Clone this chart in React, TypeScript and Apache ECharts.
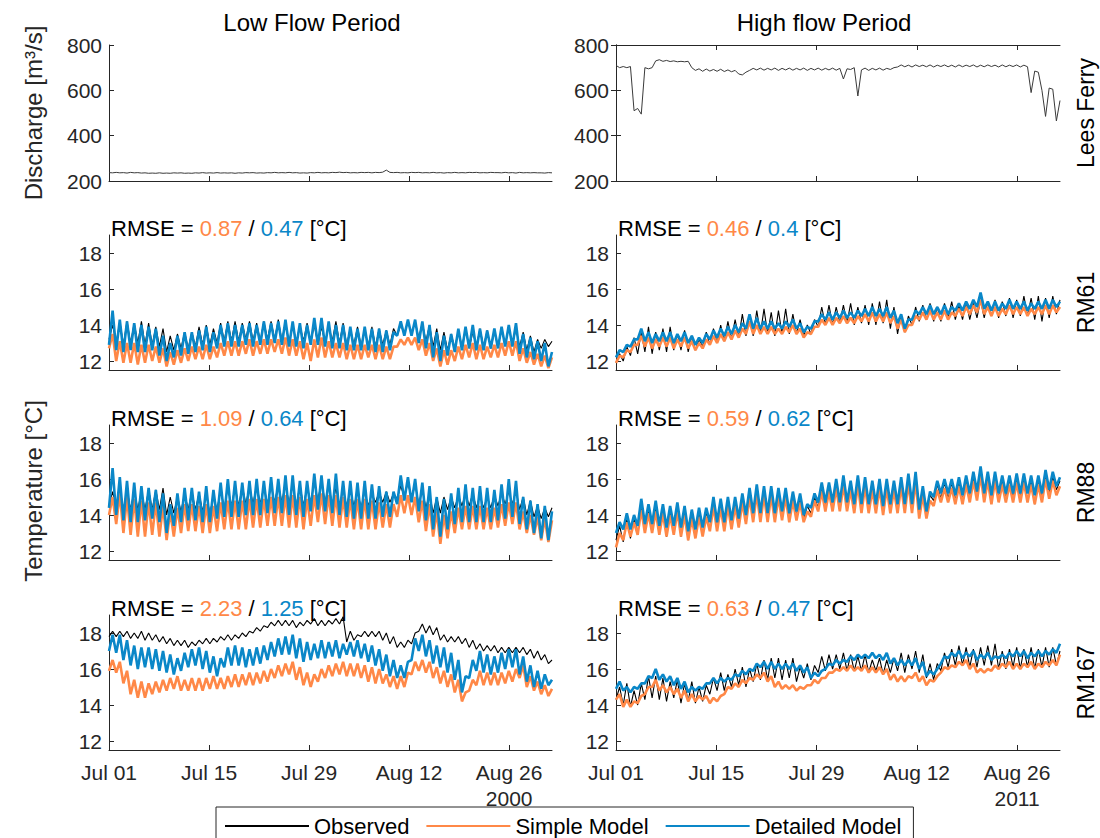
import React, { useEffect, useRef } from 'react';
import * as echarts from 'echarts';

// ---------- labels ----------
const DAY_TICKS = [0, 14, 28, 42, 56];
const DAY_LABELS = ['Jul 01', 'Jul 15', 'Jul 29', 'Aug 12', 'Aug 26'];
const YEARS = ['2000', '2011'];
const PERIOD_TITLES = ['Low Flow Period', 'High flow Period'];
const SITES = ['Lees Ferry', 'RM61', 'RM88', 'RM167'];
const TEMP_TICKS = [12, 14, 16, 18];
const Q_TICKS = [200, 400, 600, 800];
const RMSE_SIMPLE_LOW = ['0.87', '1.09', '2.23'];
const RMSE_DETAILED_LOW = ['0.47', '0.64', '1.25'];
const RMSE_SIMPLE_HIGH = ['0.46', '0.59', '0.63'];
const RMSE_DETAILED_HIGH = ['0.4', '0.62', '0.47'];
const LEGEND_NAMES = ['Observed', 'Simple Model', 'Detailed Model'];

// ---------- discharge (half-day samples, m3/s) ----------
const dischargeLow = [
  237,236,238,236,237,235,238,236,237,235,236,234,
  235,234,236,234,235,234,236,235,236,234,235,234,
  236,235,237,235,236,235,237,235,236,235,236,234,
  236,235,237,236,237,235,236,235,237,236,238,236,
  237,236,238,236,237,235,236,235,237,236,238,236,
  237,236,238,237,239,237,238,236,237,236,238,237,
  238,236,238,237,239,248,238,237,238,236,237,236,
  238,237,238,236,237,236,238,236,237,235,237,236,
  238,236,237,236,238,237,238,236,237,236,238,237,
  237,236,238,236,237,235,238,236,237,236,237,236,
  236,235,237,236,
];
const dischargeHigh = [
  710,700,705,700,
  705,510,520,495,700,695,700,730,
  735,728,732,727,730,726,728,726,728,
  700,
  688,695,684,694,685,692,684,693,683,690,682,688,
  672,668,680,
  688,697,690,698,689,697,690,698,688,697,690,698,689,697,690,698,688,697,690,698,689,697,690,698,689,697,
  650,695,692,700,575,690,
  698,688,697,690,698,689,697,692,700,
  703,712,704,711,703,712,705,711,704,712,703,711,705,712,704,711,703,712,704,711,705,712,703,711,704,712,705,711,703,712,704,711,705,712,703,711,704,
  590,685,680,600,485,610,605,465,555,
];

// ---------- temperature, daily low / high (deg C) ----------
// Low flow period (2000), RM61
const low61ObsHi = [14.0,14.2,14.2,14.1,14.2,14.1, 13.9,13.8,13.4,13.5,13.6,13.6, 13.9,14.0,13.8,14.1,14.2,14.2, 14.1,14.2,14.1,14.2,14.2,14.3, 14.2,14.1,14.0,14.1,14.0,13.9, 14.0,14.2,14.1,13.8,13.9,13.8, 13.9,13.8,13.7,13.8,14.0,14.2, 14.2,14.1,14.0,13.8,13.6,13.5, 13.7,13.8,13.6,13.8,13.7,13.6, 13.8,13.9,13.8,13.6,13.4,13.2, 13.2,13.1];
const low61ObsLo = [13.2,13.0,12.9,13.0,13.0,12.9, 12.9,12.8,12.5,12.6,12.7,12.7, 12.8,12.9,12.9,13.0,13.1,13.1, 13.1,13.2,13.1,13.1,13.2,13.2, 13.1,13.0,13.0,13.1,13.0,12.9, 13.0,13.1,13.0,12.9,12.9,12.8, 12.8,12.8,12.9,12.9,13.4,13.5, 13.5,13.3,13.1,12.8,12.6,12.6, 12.7,12.8,12.7,12.8,12.8,12.7, 12.8,12.9,12.9,12.8,12.6,12.5, 12.7,12.8];
const low61DetHi = [14.8,14.3,14.2,14.1,14.0,13.9, 13.8,13.4,13.0,13.4,13.6,13.6, 13.7,13.9,13.6,14.0,14.1,14.0, 14.0,14.1,14.0,14.2,14.1,14.2, 14.3,14.2,14.1,14.0,14.4,14.4, 14.2,14.0,14.0,13.9,13.8,13.9, 13.8,13.8,13.7,13.6,14.2,14.3, 14.3,14.2,14.0,13.6,13.4,13.5, 13.8,13.9,14.0,13.8,13.7,13.8, 13.9,14.0,14.1,13.5,13.3,13.1, 13.0,12.5];
const low61DetLo = [12.9,12.6,12.5,12.6,12.5,12.5, 12.6,12.3,12.0,12.2,12.3,12.4, 12.5,12.6,12.5,12.7,12.8,12.8, 12.8,12.9,12.8,12.9,12.9,13.0, 12.9,12.8,12.8,12.7,12.9,12.9, 12.8,12.7,12.7,12.6,12.6,12.6, 12.6,12.5,12.5,12.6,13.4,13.4, 13.4,13.0,12.7,12.2,12.0,12.3, 12.5,12.6,12.7,12.6,12.6,12.7, 12.7,12.8,12.8,12.4,12.2,12.1, 12.0,11.7];
const low61SimHi = [13.5,13.1,13.0,13.0,12.9,12.9, 12.8,12.7,12.5,12.6,12.7,12.8, 12.8,12.9,12.8,13.0,13.1,13.1, 13.1,13.2,13.1,13.2,13.2,13.2, 13.3,13.2,13.1,13.0,13.2,13.3, 13.1,13.0,13.0,12.9,12.9,12.9, 12.9,12.9,12.8,12.8,13.2,13.3, 13.3,13.2,13.0,12.7,12.6,12.6, 12.8,12.9,13.0,12.9,12.8,12.9, 13.0,13.1,13.1,12.7,12.5,12.4, 12.3,12.2];
const low61SimLo = [12.7,12.0,11.9,11.9,11.8,11.9, 12.0,11.9,11.7,11.8,11.9,12.0, 12.1,12.1,12.1,12.2,12.3,12.3, 12.3,12.4,12.3,12.4,12.4,12.5, 12.4,12.3,12.3,12.1,12.0,12.2, 12.2,12.2,12.2,12.1,12.1,12.1, 12.2,12.1,12.1,12.1,12.8,12.9, 12.9,12.6,12.3,12.0,11.7,11.8, 12.0,12.1,12.2,12.1,12.1,12.2, 12.2,12.3,12.3,12.0,11.9,11.8, 11.7,11.6];

// Low flow period (2000), RM88
const low88ObsHi = [15.3,15.5,15.4,15.4,15.3,15.4, 15.4,15.5,15.0,15.0,15.2,15.3, 15.2,15.1,15.0,15.4,15.5,15.6, 15.6,15.6,15.7,15.6,15.6,15.7, 15.8,15.7,15.7,15.6,15.8,15.9, 15.7,15.5,15.4,15.4,15.3,15.3, 15.2,15.3,15.3,15.2,15.6,15.8, 15.7,15.4,15.2,15.0,15.0,15.0, 15.1,15.2,15.2,15.1,15.0,15.1, 15.2,15.3,15.4,15.0,14.8,14.5, 14.4,14.4];
const low88ObsLo = [14.5,14.4,14.3,14.3,14.3,14.3, 14.3,14.3,14.0,14.1,14.2,14.3, 14.3,14.2,14.1,14.3,14.4,14.5, 14.5,14.6,14.6,14.6,14.6,14.7, 14.7,14.6,14.5,14.5,14.7,14.8, 14.7,14.5,14.5,14.5,14.5,14.4, 14.5,14.7,14.7,14.7,14.9,15.0, 14.9,14.6,14.4,14.1,14.1,14.3, 14.4,14.5,14.5,14.4,14.4,14.4, 14.5,14.6,14.6,14.3,14.0,13.9, 13.8,13.9];
const low88DetHi = [16.6,16.1,15.9,15.8,15.6,15.5, 15.4,15.2,14.6,15.2,15.5,15.5, 15.3,15.6,15.4,15.8,16.0,15.9, 15.8,15.9,16.0,15.9,16.1,16.0, 16.2,16.2,15.9,15.9,16.3,16.2, 16.0,16.3,15.9,15.9,15.8,15.9, 15.7,15.6,15.3,15.3,16.2,16.1, 16.0,15.8,15.6,15.0,14.9,15.2, 15.5,15.7,15.5,15.6,15.5,15.4, 15.7,16.0,15.9,15.0,14.8,14.6, 14.5,14.2];
const low88DetLo = [14.4,14.0,13.7,13.6,13.6,13.7, 13.8,13.6,13.0,13.4,13.6,13.7, 13.7,13.6,13.6,13.8,13.9,13.9, 13.9,14.0,14.0,14.0,14.1,14.1, 14.1,14.0,14.0,13.9,14.2,14.3, 14.2,14.1,14.0,13.9,13.8,13.8, 13.8,13.8,13.9,13.9,14.6,14.8, 14.7,14.2,13.7,13.2,12.8,13.2, 13.5,13.6,13.6,13.6,13.6,13.6, 13.7,13.8,13.9,13.5,13.2,13.0, 12.7,12.6];
const low88SimHi = [15.0,15.2,15.0,14.9,14.8,14.7, 14.7,14.5,14.2,14.4,14.6,14.6, 14.5,14.6,14.5,14.7,14.8,14.8, 14.8,14.9,14.9,14.9,15.0,15.0, 15.1,15.1,15.0,14.9,15.1,15.2, 15.1,15.1,15.0,14.9,14.9,14.9, 14.8,14.7,14.6,14.6,15.1,15.1, 15.0,14.8,14.6,14.2,14.0,14.2, 14.4,14.5,14.5,14.5,14.4,14.4, 14.6,14.7,14.7,14.2,14.0,13.9, 13.8,13.7];
const low88SimLo = [14.0,13.5,13.0,12.9,12.8,12.8, 12.9,12.8,12.6,12.8,13.0,13.1, 13.1,13.0,13.0,13.1,13.2,13.2, 13.2,13.2,13.3,13.3,13.4,13.4, 13.4,13.3,13.3,13.2,13.4,13.6, 13.5,13.4,13.3,13.3,13.2,13.2, 13.2,13.2,13.3,13.3,13.9,14.1, 14.0,13.6,13.1,12.8,12.4,12.7, 13.0,13.2,13.2,13.2,13.2,13.2, 13.3,13.4,13.5,13.2,13.0,12.9, 12.6,12.5];

// Low flow period (2000), RM167
const low167ObsHi = [18.1,18.1,18.1,18.0,18.1,18.0, 17.9,17.8,17.7,17.6,17.6,17.5, 17.6,17.7,17.7,17.8,17.9,17.9, 18.0,18.1,18.3,18.4,18.6,18.7, 18.7,18.7,18.6,18.7,18.8,18.7, 18.7,18.8,18.9,18.1,17.9,18.1, 18.1,18.1,18.0,17.8,17.5,17.6, 18.0,18.5,18.4,18.3,17.9,17.8, 17.8,17.7,17.6,17.4,17.3,17.3, 17.2,17.2,17.2,17.2,17.1,17.0, 16.8,16.5];
const low167ObsLo = [17.8,17.8,17.8,17.7,17.7,17.6, 17.6,17.5,17.4,17.3,17.3,17.2, 17.3,17.4,17.4,17.5,17.6,17.6, 17.7,17.8,18.0,18.1,18.3,18.4, 18.4,18.4,18.3,18.4,18.5,18.4, 18.4,18.5,18.5,17.5,17.6,17.8, 17.8,17.8,17.6,17.4,17.2,17.2, 17.4,18.1,18.0,17.9,17.6,17.5, 17.5,17.4,17.2,17.1,17.0,17.0, 16.9,16.9,16.9,16.9,16.8,16.6, 16.5,16.3];
const low167DetHi = [17.9,17.9,17.6,17.3,17.2,17.2, 17.1,17.0,16.8,16.6,16.9,17.1, 17.2,17.0,16.7,16.6,17.2,17.3, 17.2,17.1,17.2,17.3,17.5,17.7, 17.8,17.9,17.7,17.5,17.4,17.6, 17.5,17.6,17.4,17.5,17.6,17.4, 17.3,17.1,16.8,16.5,16.2,16.4, 17.7,17.9,17.6,17.3,17.2,16.9, 16.5,15.6,16.5,17.0,16.8,16.7, 16.9,17.1,17.1,16.7,16.2,15.9, 15.7,15.4];
const low167DetLo = [17.0,16.9,16.5,16.2,16.0,16.1, 16.0,15.9,15.8,15.7,15.9,16.1, 16.2,16.0,15.8,15.6,16.1,16.2, 16.2,16.1,16.2,16.3,16.5,16.7, 16.8,16.8,16.6,16.4,16.5,16.6, 16.6,16.7,16.6,16.8,16.7,16.6, 16.4,16.2,15.9,15.6,15.5,15.5, 16.5,17.0,16.7,16.3,16.1,15.8, 15.4,14.7,15.5,15.9,15.8,15.7, 15.8,16.0,16.1,15.7,15.3,15.0, 14.9,15.1];
const low167SimHi = [16.5,16.4,15.9,15.4,15.3,15.2, 15.3,15.4,15.5,15.6,15.4,15.5, 15.5,15.5,15.6,15.5,15.6,15.7, 15.7,15.8,15.8,15.9,16.0,16.2, 16.3,16.4,16.1,15.8,15.7,16.0, 16.2,16.3,16.4,16.3,16.3,16.2, 16.1,16.0,15.7,15.6,15.6,15.8, 16.4,16.5,16.4,16.1,15.9,15.7, 15.4,14.7,15.4,15.9,15.8,15.8, 15.8,15.9,16.0,16.2,15.6,15.3, 15.1,14.9];
const low167SimLo = [15.9,15.8,15.2,14.6,14.4,14.4, 14.6,14.7,14.8,14.9,14.8,14.8, 14.8,14.8,14.9,14.9,14.9,15.0, 15.0,15.1,15.1,15.2,15.3,15.5, 15.6,15.7,15.4,15.1,15.0,15.3, 15.5,15.6,15.7,15.6,15.6,15.5, 15.3,15.2,15.2,15.0,14.9,15.0, 15.7,15.9,15.8,15.5,15.2,15.0, 14.7,14.2,14.8,15.1,15.1,15.1, 15.1,15.2,15.3,15.5,15.0,14.8, 14.6,14.5];

// High flow period (2011), RM61
const high61ObsHi = [12.4,12.8,13.3,13.6,13.9,13.6, 13.8,13.9,13.5,13.7,13.4,13.2, 13.6,13.8,14.0,14.2,14.3,14.6, 14.6,14.8,14.9,14.7,14.8,14.9, 14.6,14.3,14.0,14.3,15.0,15.1, 15.0,15.1,15.2,15.0,15.1,15.2, 15.3,15.4,15.0,14.6,14.5,15.0, 15.1,15.2,15.0,15.2,15.3,15.1, 15.3,15.2,15.4,15.3,15.4,15.3, 15.5,15.4,15.6,15.5,15.6,15.5, 15.6,15.4];
const high61ObsLo = [11.9,12.0,12.3,12.4,12.5,12.4, 12.6,12.5,12.6,12.6,12.5,12.6, 12.8,12.9,13.0,13.1,13.2,13.3, 13.4,13.4,13.5,13.5,13.4,13.5, 13.5,13.5,13.4,13.5,13.9,14.0, 14.0,14.1,14.1,14.0,14.1,14.0, 14.0,14.1,13.8,13.5,13.6,14.0, 14.2,14.3,14.2,14.2,14.4,14.3, 14.3,14.3,14.4,14.4,14.5,14.4, 14.5,14.4,14.5,14.5,14.3,14.2, 14.4,14.6];
const high61DetHi = [12.6,12.9,13.2,13.8,13.6,13.5, 13.6,13.6,13.5,13.6,13.4,13.3, 13.5,13.7,13.8,13.9,14.0,14.1, 14.6,14.4,14.2,14.2,14.1,14.2, 14.3,14.1,13.9,14.2,14.6,14.7, 14.7,14.8,14.7,14.8,14.9,15.0, 14.9,15.0,14.8,14.6,14.3,14.8, 15.0,15.1,15.0,15.1,15.0,15.2, 15.3,15.4,15.8,15.3,15.3,15.2, 15.4,15.3,15.3,15.2,15.3,15.4, 15.4,15.3];
const high61DetLo = [12.2,12.5,12.8,13.2,13.1,13.0, 13.1,13.1,13.0,13.1,13.0,12.9, 13.0,13.2,13.3,13.4,13.5,13.6, 13.8,13.8,13.8,13.8,13.8,13.8, 13.9,13.8,13.6,13.8,14.2,14.3, 14.3,14.4,14.4,14.4,14.5,14.5, 14.5,14.5,14.4,14.1,13.8,14.3, 14.6,14.6,14.6,14.6,14.6,14.8, 14.8,14.9,15.0,14.9,14.8,14.8, 14.9,14.9,14.9,14.8,14.9,14.9, 14.9,15.0];
const high61SimHi = [12.3,12.6,12.9,13.4,13.3,13.2, 13.3,13.3,13.2,13.3,13.1,13.0, 13.2,13.4,13.5,13.6,13.7,13.8, 14.2,14.0,13.9,13.9,13.8,13.9, 14.0,13.8,13.6,13.9,14.3,14.4, 14.4,14.5,14.4,14.5,14.6,14.7, 14.6,14.7,14.5,14.3,14.0,14.5, 14.7,14.8,14.7,14.8,14.7,14.9, 15.0,15.1,15.4,15.0,15.0,14.9, 15.1,15.0,15.0,14.9,15.0,15.1, 15.1,15.0];
const high61SimLo = [11.9,12.2,12.5,12.9,12.8,12.7, 12.8,12.8,12.7,12.8,12.7,12.6, 12.7,12.9,13.0,13.1,13.2,13.3, 13.5,13.5,13.5,13.5,13.5,13.5, 13.6,13.5,13.3,13.5,13.9,14.0, 14.0,14.1,14.1,14.1,14.2,14.2, 14.2,14.2,14.1,13.8,13.6,14.0, 14.3,14.3,14.3,14.3,14.3,14.5, 14.5,14.6,14.7,14.6,14.5,14.5, 14.6,14.6,14.6,14.5,14.6,14.6, 14.6,14.7];

// High flow period (2011), RM88
const high88ObsHi = [13.4,13.8,13.8,14.5,14.3,14.5, 14.3,14.3,14.5,14.3,14.1,14.2, 14.2,14.8,14.7,14.8,14.8,15.0, 15.3,15.5,15.4,15.4,15.3,15.3, 15.1,15.0,14.5,15.0,15.6,15.7, 15.8,16.0,15.7,15.9,15.8,15.7, 15.7,15.7,15.6,15.8,16.0,16.1, 15.4,15.1,15.7,15.8,15.8,15.9, 16.0,16.1,16.4,16.2,16.2,16.0, 16.0,16.1,16.1,16.0,16.0,16.2, 16.1,15.9];
const high88ObsLo = [12.6,12.5,12.7,13.0,13.1,13.0, 12.9,12.8,12.9,12.8,12.6,12.8, 12.9,13.2,13.2,13.2,13.3,13.5, 13.7,13.8,13.8,13.8,13.8,13.9, 13.8,13.9,13.8,14.1,14.4,14.4, 14.4,14.4,14.4,14.3,14.3,14.3, 14.3,14.2,14.3,14.3,14.3,14.3, 14.0,14.0,14.8,14.9,14.9,14.8, 14.8,14.9,15.0,14.9,14.8,14.9, 14.9,14.9,14.9,14.8,14.6,14.9, 15.2,15.4];
const high88DetHi = [13.6,14.1,14.0,14.9,14.6,14.8, 14.6,14.5,14.7,14.5,14.3,14.4, 14.4,15.0,14.9,15.0,15.0,15.2, 15.5,15.7,15.6,15.6,15.5,15.5, 15.3,15.2,14.6,15.2,15.8,15.8, 16.0,16.2,15.9,16.2,16.1,15.9, 16.0,16.0,15.9,16.1,16.3,16.4, 15.6,15.3,15.9,16.0,16.0,16.1, 16.2,16.4,16.7,16.4,16.4,16.2, 16.2,16.3,16.3,16.2,16.2,16.5, 16.4,16.1];
const high88DetLo = [13.0,13.2,13.2,13.4,13.5,13.5, 13.4,13.3,13.4,13.3,13.1,13.2, 13.3,13.6,13.6,13.6,13.7,13.8, 14.0,14.1,14.1,14.1,14.1,14.2, 14.1,14.2,14.0,14.4,14.7,14.7, 14.7,14.7,14.7,14.6,14.6,14.6, 14.6,14.5,14.6,14.6,14.6,14.6, 14.3,14.2,15.0,15.2,15.2,15.1, 15.1,15.2,15.3,15.2,15.1,15.2, 15.2,15.2,15.2,15.2,15.1,15.2, 15.4,15.6];
const high88SimHi = [13.0,13.6,13.6,14.3,14.1,14.2, 14.1,14.0,14.2,14.0,13.8,13.9, 13.9,14.5,14.4,14.5,14.5,14.7, 15.0,15.2,15.1,15.1,15.0,15.0, 14.8,14.7,14.2,14.8,15.3,15.3, 15.5,15.7,15.4,15.7,15.6,15.4, 15.5,15.5,15.4,15.6,15.8,15.9, 15.1,14.8,15.4,15.5,15.5,15.6, 15.7,15.9,16.2,15.9,15.9,15.7, 15.7,15.8,15.8,15.7,15.7,16.0, 15.9,15.6];
const high88SimLo = [12.2,12.6,12.8,12.9,13.0,13.0, 12.9,12.8,12.9,12.8,12.6,12.7, 12.8,13.1,13.1,13.1,13.2,13.3, 13.5,13.6,13.6,13.6,13.6,13.7, 13.6,13.7,13.6,13.9,14.2,14.2, 14.2,14.2,14.2,14.1,14.1,14.1, 14.1,14.0,14.1,14.1,14.1,14.1, 13.8,13.8,14.5,14.7,14.7,14.6, 14.6,14.7,14.8,14.7,14.6,14.7, 14.7,14.7,14.7,14.7,14.6,14.7, 14.9,15.1];

// High flow period (2011), RM167
const high167ObsHi = [15.0,15.2,14.8,15.2,15.6,15.6, 15.5,15.3,15.4,15.2,15.3,15.0, 15.1,15.5,15.8,15.7,16.0,16.1, 16.0,16.3,16.5,16.6,16.6,16.5, 16.6,16.1,16.3,16.2,16.7,16.8, 16.8,16.9,16.8,16.7,16.8,16.5, 16.6,16.5,16.6,16.9,16.8,17.0, 16.8,16.3,16.3,16.9,17.1,17.3, 17.2,17.1,17.2,17.3,17.4,17.0, 17.1,17.2,17.1,17.2,17.1,17.2, 17.2,17.0];
const high167ObsLo = [14.3,14.0,13.9,14.0,14.3,14.4, 14.3,14.2,14.4,14.1,14.2,14.1, 14.2,14.6,14.8,14.8,15.0,15.1, 15.0,15.3,15.4,15.4,15.5,15.4, 15.5,15.3,15.5,15.4,15.8,15.9, 16.0,16.0,15.9,15.9,15.9,15.8, 15.9,15.7,15.8,15.9,15.8,16.0, 15.8,15.5,15.4,15.9,16.1,16.2, 16.2,16.1,16.1,16.2,16.2,16.0, 16.0,16.1,16.0,16.1,16.0,16.1, 16.1,16.2];
const high167DetHi = [15.3,15.0,15.0,15.2,15.6,16.0, 15.7,15.6,15.5,15.3,15.0,15.0, 15.2,15.5,15.5,15.5,15.7,15.9, 16.0,16.3,16.4,16.4,16.3,16.3, 16.3,16.2,16.1,15.8,15.9,16.3, 16.5,16.5,16.7,16.8,16.8,16.9, 16.8,16.9,16.6,16.5,16.5,16.6, 16.4,15.9,16.0,16.7,16.9,17.0, 16.9,17.0,16.8,16.9,16.7,16.8, 16.9,17.0,17.0,16.9,17.0,17.0, 17.1,17.4];
const high167DetLo = [14.9,14.8,14.7,14.9,15.2,15.5, 15.4,15.3,15.1,14.9,14.7,14.8, 14.9,15.2,15.2,15.3,15.4,15.6, 15.7,15.9,16.1,16.0,16.0,16.0, 16.0,15.9,15.8,15.5,15.6,16.0, 16.2,16.3,16.4,16.5,16.6,16.6, 16.6,16.5,16.3,16.2,16.2,16.2, 16.0,15.6,15.7,16.3,16.6,16.7, 16.6,16.7,16.5,16.6,16.5,16.6, 16.6,16.7,16.7,16.6,16.7,16.7, 16.8,16.9];
const high167SimHi = [14.6,14.3,14.2,14.5,15.0,15.4, 15.1,15.0,14.9,14.8,14.6,14.5, 14.5,14.4,14.5,15.0,15.2,15.4, 15.5,15.7,15.8,15.6,15.3,15.1, 15.1,15.0,15.1,15.4,15.5,15.8, 16.0,16.1,16.2,16.1,16.2,16.1, 16.1,16.0,15.7,15.6,15.6,15.8, 15.6,15.4,15.6,16.1,16.2,16.4, 16.5,16.3,16.0,16.0,16.2,16.3, 16.4,16.3,16.3,16.4,16.3,16.4, 16.5,16.8];
const high167SimLo = [14.3,13.9,13.9,14.1,14.6,15.0, 14.8,14.7,14.6,14.4,14.2,14.2, 14.3,14.1,14.2,14.6,14.9,15.0, 15.2,15.4,15.5,15.3,15.0,14.9, 14.9,14.8,14.9,15.1,15.2,15.5, 15.8,15.9,15.9,15.9,15.9,15.8, 15.8,15.7,15.4,15.3,15.3,15.5, 15.3,15.1,15.3,15.8,16.0,16.1, 16.2,16.0,15.8,15.8,15.9,16.0, 16.1,16.0,16.0,16.1,16.0,16.1, 16.2,16.2];

// ---------- styling ----------
const FONT = '"Liberation Sans", Arial, Helvetica, sans-serif';
const INK = '#262626';
const OBS_COLOR = '#000000';
const Q_COLOR = '#3a3a3a';
const SIMPLE_COLOR = '#FF8847';
const DETAILED_COLOR = '#0A87C8';

const GRID_LEFT = [109, 616];
const GRID_WIDTH = [443, 444];
const GRID_TOP = [45, 235, 425, 615];
const GRID_HEIGHT = [136, 135, 135, 135];
const X_MAX = 62;

function dayPairs(lo: number[], hi: number[]) {
  const out: number[] = [];
  for (let i = 0; i < lo.length; i++) out.push(lo[i], hi[i]);
  return out;
}
function onTimeAxis(vals: number[]) {
  const n = vals.length;
  return vals.map((v, i) => [(i * X_MAX) / (n - 1), v]);
}

const TEMP_PANELS = [
  { row: 1, col: 0, obs: [low61ObsLo, low61ObsHi], sim: [low61SimLo, low61SimHi], det: [low61DetLo, low61DetHi] },
  { row: 1, col: 1, obs: [high61ObsLo, high61ObsHi], sim: [high61SimLo, high61SimHi], det: [high61DetLo, high61DetHi] },
  { row: 2, col: 0, obs: [low88ObsLo, low88ObsHi], sim: [low88SimLo, low88SimHi], det: [low88DetLo, low88DetHi] },
  { row: 2, col: 1, obs: [high88ObsLo, high88ObsHi], sim: [high88SimLo, high88SimHi], det: [high88DetLo, high88DetHi] },
  { row: 3, col: 0, obs: [low167ObsLo, low167ObsHi], sim: [low167SimLo, low167SimHi], det: [low167DetLo, low167DetHi] },
  { row: 3, col: 1, obs: [high167ObsLo, high167ObsHi], sim: [high167SimLo, high167SimHi], det: [high167DetLo, high167DetHi] },
];

function buildOption() {
  const grid: any[] = [];
  const xAxis: any[] = [];
  const yAxis: any[] = [];
  const series: any[] = [];
  const graphic: any[] = [];

  const axisLine = { show: true, lineStyle: { color: INK, width: 1 } };
  const labelStyle = { color: INK, fontSize: 21, fontFamily: FONT };

  for (let row = 0; row < 4; row++) {
    for (let col = 0; col < 2; col++) {
      const gi = grid.length;
      grid.push({ left: GRID_LEFT[col], top: GRID_TOP[row], width: GRID_WIDTH[col], height: GRID_HEIGHT[row] });
      const year = YEARS[col];
      xAxis.push({
        type: 'value', gridIndex: gi, min: 0, max: X_MAX,
        axisLine,
        splitLine: { show: false },
        axisTick: { show: true, inside: true, length: 5, customValues: DAY_TICKS, lineStyle: { color: INK } },
        axisLabel: {
          show: row === 3, customValues: DAY_TICKS, margin: 9, ...labelStyle, lineHeight: 26,
          formatter: (v: number) => {
            const k = DAY_TICKS.indexOf(v);
            return k === DAY_TICKS.length - 1 ? DAY_LABELS[k] + '\n' + year : DAY_LABELS[k];
          },
        },
      });
      if (row === 0) {
        yAxis.push({
          type: 'value', gridIndex: gi, min: 200, max: 800, interval: 200,
          axisLine, splitLine: { show: false },
          axisTick: { show: true, inside: true, length: 5, lineStyle: { color: INK } },
          axisLabel: { ...labelStyle, margin: 7, customValues: Q_TICKS },
        });
      } else {
        yAxis.push({
          type: 'value', gridIndex: gi, min: 11.5, max: 19,
          axisLine, splitLine: { show: false },
          axisTick: { show: true, inside: true, length: 5, customValues: TEMP_TICKS, lineStyle: { color: INK } },
          axisLabel: { ...labelStyle, margin: 7, customValues: TEMP_TICKS },
        });
      }
    }
  }

  // box for the high-flow discharge panel
  const boxGrid = 1;
  xAxis.push({
    type: 'value', gridIndex: boxGrid, position: 'top', min: 0, max: X_MAX,
    axisLine, splitLine: { show: false },
    axisTick: { show: true, inside: true, length: 5, customValues: DAY_TICKS, lineStyle: { color: INK } },
    axisLabel: { show: false },
  });
  yAxis.push({
    type: 'value', gridIndex: boxGrid, position: 'right', min: 200, max: 800, interval: 200,
    axisLine, splitLine: { show: false },
    axisTick: { show: true, inside: true, length: 5, lineStyle: { color: INK } },
    axisLabel: { show: false },
  });

  // discharge
  [dischargeLow, dischargeHigh].forEach((q, col) => {
    series.push({
      type: 'line', name: 'Discharge', xAxisIndex: col, yAxisIndex: col,
      data: onTimeAxis(q), symbol: 'none', lineStyle: { color: Q_COLOR, width: 1 }, itemStyle: { color: Q_COLOR },
    });
  });

  // temperature
  TEMP_PANELS.forEach((p) => {
    const gi = p.row * 2 + p.col;
    const defs = [
      { name: LEGEND_NAMES[0], d: p.obs, color: OBS_COLOR, width: 1.1 },
      { name: LEGEND_NAMES[1], d: p.sim, color: SIMPLE_COLOR, width: 2.6 },
      { name: LEGEND_NAMES[2], d: p.det, color: DETAILED_COLOR, width: 2.6 },
    ];
    defs.forEach((s) => {
      series.push({
        type: 'line', name: s.name, xAxisIndex: gi, yAxisIndex: gi,
        data: onTimeAxis(dayPairs(s.d[0], s.d[1])), symbol: 'none',
        lineStyle: { color: s.color, width: s.width }, itemStyle: { color: s.color },
      });
    });
  });

  // titles
  const titleX = [312, 824];
  PERIOD_TITLES.forEach((t, col) => {
    graphic.push({
      type: 'text', x: titleX[col], y: 22,
      style: { text: t, fontSize: 24, fontFamily: FONT, fill: '#000', align: 'center', verticalAlign: 'middle' },
    });
  });

  // site labels on the right
  SITES.forEach((s, row) => {
    graphic.push({
      type: 'text', x: 1086, y: GRID_TOP[row] + GRID_HEIGHT[row] / 2, rotation: Math.PI / 2,
      style: { text: s, fontSize: 23, fontFamily: FONT, fill: '#000', align: 'center', verticalAlign: 'middle' },
    });
  });

  // y axis names
  graphic.push({
    type: 'text', x: 33, y: 113, rotation: Math.PI / 2,
    style: { text: 'Discharge [m³/s]', fontSize: 24, fontFamily: FONT, fill: INK, align: 'center', verticalAlign: 'middle' },
  });
  graphic.push({
    type: 'text', x: 33, y: 491, rotation: Math.PI / 2,
    style: { text: 'Temperature [°C]', fontSize: 24, fontFamily: FONT, fill: INK, align: 'center', verticalAlign: 'middle' },
  });

  // RMSE annotations
  const rich = {
    k: { fill: '#000', fontSize: 22, fontFamily: FONT },
    o: { fill: SIMPLE_COLOR, fontSize: 22, fontFamily: FONT },
    b: { fill: DETAILED_COLOR, fontSize: 22, fontFamily: FONT },
  };
  for (let r = 1; r < 4; r++) {
    for (let col = 0; col < 2; col++) {
      const sim = col === 0 ? RMSE_SIMPLE_LOW[r - 1] : RMSE_SIMPLE_HIGH[r - 1];
      const det = col === 0 ? RMSE_DETAILED_LOW[r - 1] : RMSE_DETAILED_HIGH[r - 1];
      graphic.push({
        type: 'text', x: GRID_LEFT[col] + 2, y: GRID_TOP[r] - 7,
        style: {
          text: `{k|RMSE = }{o|${sim}}{k| / }{b|${det}}{k| [°C]}`,
          rich, fontSize: 22, fontFamily: FONT, align: 'left', verticalAlign: 'middle',
        },
      });
    }
  }

  return {
    animation: false,
    backgroundColor: '#ffffff',
    grid, xAxis, yAxis, series, graphic,
    legend: {
      data: LEGEND_NAMES,
      left: 216, top: 807,
      itemWidth: 84, itemHeight: 14, itemGap: 16,
      itemStyle: { opacity: 0, borderWidth: 0 },
      textStyle: { fontSize: 22, color: '#000', fontFamily: FONT },
      borderColor: INK, borderWidth: 1, borderRadius: 0,
      padding: [8, 12, 20, 8],
      backgroundColor: '#ffffff',
    },
  };
}

export default function App() {
  const ref = useRef<HTMLDivElement>(null);
  useEffect(() => {
    if (!ref.current) return;
    const chart = echarts.init(ref.current, undefined, { renderer: 'svg' });
    chart.setOption(buildOption() as any);
    return () => chart.dispose();
  }, []);
  return (
    <div
      ref={ref}
      style={{ position: 'fixed', left: 0, top: 0, width: 1100, height: 838, background: '#fff' }}
    />
  );
}
